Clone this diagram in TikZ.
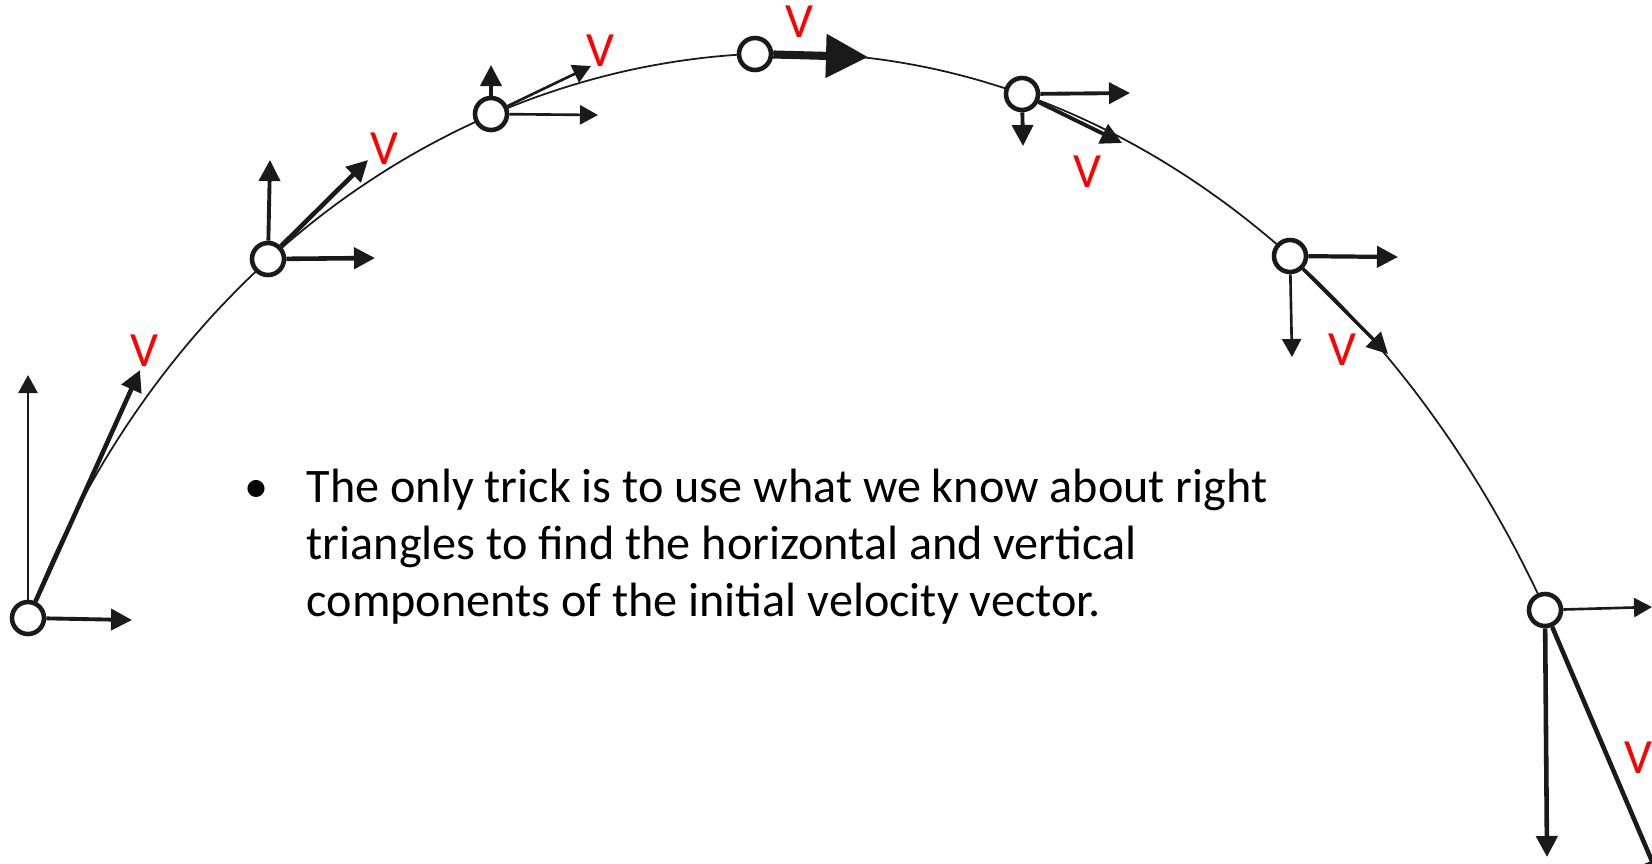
\documentclass[tikz,border=0pt]{standalone}
\usepackage{fontspec}
\setmainfont{Carlito}
\usepackage{xcolor}
\usepackage{tikz}
\usetikzlibrary{arrows.meta}
\definecolor{cRed}{HTML}{FF0000}
\definecolor{cInk}{HTML}{1A1A1A}

\begin{document}
\begin{tikzpicture}[x=0.01cm,y=-0.01cm,
  ball/.style={circle,draw=cInk,line width=1.3pt,fill=white,
               inner sep=0pt,minimum size=0.32cm},
  trail/.style={cInk,line width=0.5pt},
  thinvec/.style={-{Triangle[length=1.8mm,width=1.9mm]},line width=0.75pt,cInk},
  vec/.style={-{Triangle[length=2.1mm,width=2.1mm]},line width=1.3pt,cInk},
  bigvec/.style={-{Triangle[length=4.2mm,width=4.2mm]},line width=2.3pt,cInk},
  vlbl/.style={text=cRed,font=\fontsize{14}{16}\selectfont,inner sep=0pt},
  txt/.style={font=\fontsize{13.7}{16.3}\selectfont,inner sep=0pt,
              align=flush left,text width=11cm}]

\useasboundingbox (0,0) rectangle (1652,863);

\draw[trail] plot[domain=203.07:270,samples=80]
  ({787+825*cos(\x)},{983+930*sin(\x)});
\draw[trail] plot[domain=-90:-30.4,samples=80]
  ({787+880*cos(\x)},{1183+1130*sin(\x)});

\node[ball] (b1) at (28,618) {};
\node[ball] (b2) at (268,259) {};
\node[ball] (b3) at (491,114) {};
\node[ball] (b4) at (755,54) {};
\node[ball] (b5) at (1022,94) {};
\node[ball] (b6) at (1290,256) {};
\node[ball] (b7) at (1545,610) {};

\coordinate (b1y) at (28,375);
\coordinate (b1x) at (132,620);
\coordinate (b1v) at (140,370);
\coordinate (b2y) at (270,160);
\coordinate (b2x) at (375,258);
\coordinate (b2v) at (368,160);
\coordinate (b3y) at (491,65);
\coordinate (b3x) at (598,115);
\coordinate (b3v) at (591,66);
\coordinate (b4x) at (868,57);
\coordinate (b5x) at (1130,93);
\coordinate (b5y) at (1023,146);
\coordinate (b5v) at (1122,143);
\coordinate (b6x) at (1398,257);
\coordinate (b6y) at (1292,357);
\coordinate (b6v) at (1388,354);
\coordinate (b7x) at (1652,607);
\coordinate (b7y) at (1547,857);
\coordinate (b7v) at (1660,880);

\draw[thinvec] (b1) -- (b1y);
\draw[vec,line width=1.1pt] (b1) -- (b1x);
\draw[vec] (b1) -- (b1v);
\draw[vec,line width=1.1pt] (b2) -- (b2y);
\draw[vec] (b2) -- (b2x);
\draw[vec] (b2) -- (b2v);
\draw[vec,line width=1.1pt] (b3) -- (b3y);
\draw[thinvec] (b3) -- (b3x);
\draw[thinvec] (b3) -- (b3v);
\draw[bigvec] (b4) -- (b4x);
\draw[vec,line width=1.1pt] (b5) -- (b5x);
\draw[vec,line width=1.1pt] (b5) -- (b5y);
\draw[vec,line width=1.1pt] (b5) -- (b5v);
\draw[vec,line width=1.2pt] (b6) -- (b6x);
\draw[thinvec] (b6) -- (b6y);
\draw[vec,line width=1pt] (b6) -- (b6v);
\draw[thinvec] (b7) -- (b7x);
\draw[vec] (b7) -- (b7y);
\draw[vec] (b7) -- (b7v);

\node[vlbl] (l1) at (144,351) {V};
\node[vlbl] (l2) at (384,149) {V};
\node[vlbl] (l3) at (600,51) {V};
\node[vlbl] (l4) at (799,22) {V};
\node[vlbl] (l5) at (1087,172) {V};
\node[vlbl] (l6) at (1342,350) {V};
\node[vlbl] (l7) at (1638,758) {V};

\node[txt,anchor=base west,text width=0.6cm] (dot) at (244,502) {•};
\node[txt,anchor=base west] (note) at (306,502)
  {The only trick is to use what we know about right\\
   triangles to find the horizontal and vertical\\
   components of the initial velocity vector.};
\end{tikzpicture}
\end{document}
